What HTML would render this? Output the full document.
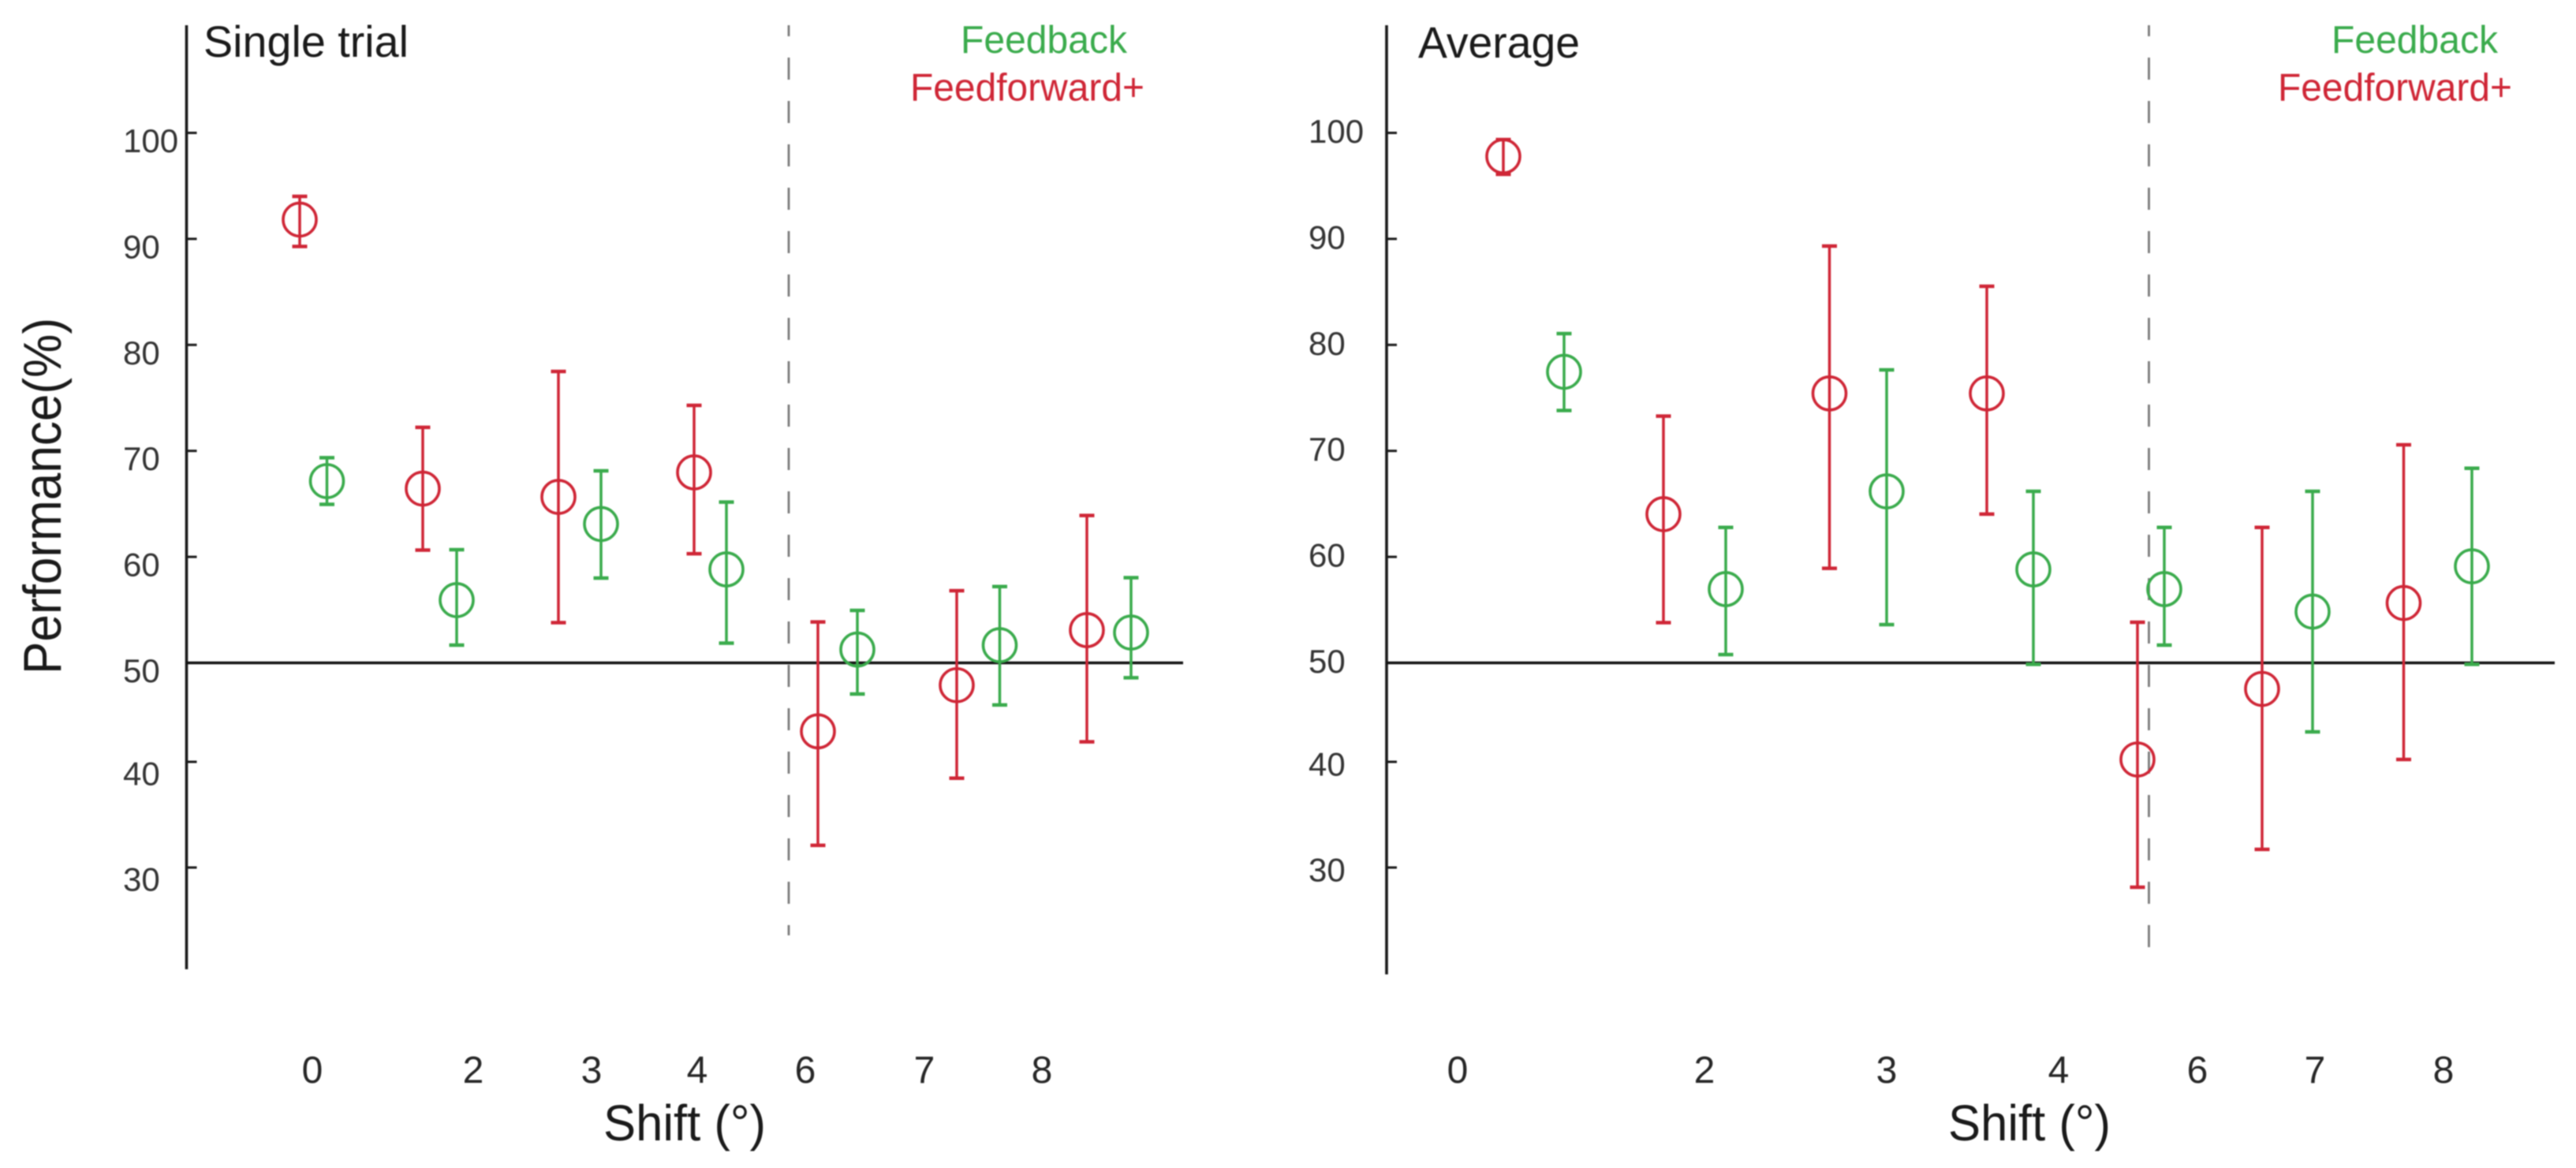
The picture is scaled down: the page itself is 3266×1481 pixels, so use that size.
<!DOCTYPE html>
<html lang="en">
<head>
<meta charset="utf-8">
<title>Performance vs Shift</title>
<style>
  html, body { margin: 0; padding: 0; background: #fff; }
  svg { display: block; font-family: "Liberation Sans", Arial, sans-serif; filter: blur(0.7px); }
</style>
</head>
<body>
<svg id="chart" xmlns="http://www.w3.org/2000/svg" width="3266" height="1481" viewBox="0 0 3266 1481">
  <rect x="0" y="0" width="3266" height="1481" fill="#ffffff"/>
  <text transform="translate(77,629) rotate(-90)" text-anchor="middle" font-size="68" textLength="452" lengthAdjust="spacingAndGlyphs" fill="#1a1a1a">Performance(%)</text>
</svg>
<script>
const yTicks = [100, 90, 80, 70, 60, 50, 40, 30];
const xTickLabels = ['0', '2', '3', '4', '6', '7', '8'];

const leftTickPos = [0, 2.04, 3.54, 4.88, 6.25, 7.76, 9.25];
const leftRedPos = [-0.16, 1.40, 3.12, 4.84, 6.41, 8.17, 9.82];
const leftRedMean = [91.82, 66.44, 65.66, 67.97, 43.08, 47.75, 53.09];
const leftRedHigh = [94.01, 72.22, 77.49, 74.29, 53.86, 56.81, 63.9];
const leftRedLow = [89.29, 60.64, 53.79, 60.3, 32.1, 38.45, 42.02];
const leftGreenPos = [0.185, 1.83, 3.66, 5.25, 6.91, 8.715, 10.38];
const leftGreenMean = [67.15, 55.92, 63.1, 58.82, 51.26, 51.67, 52.86];
const leftGreenHigh = [69.35, 60.68, 68.12, 65.17, 54.95, 57.2, 58.04];
const leftGreenLow = [64.96, 51.67, 58.0, 51.86, 46.85, 45.75, 48.5];

const rightTickPos = [0, 3.13, 5.44, 7.62, 9.38, 10.87, 12.5];
const rightRedPos = [0.58, 2.61, 4.715, 6.71, 8.62, 10.2, 11.995];
const rightRedMean = [97.79, 64.03, 75.42, 75.42, 40.24, 47.37, 55.65];
const rightRedHigh = [99.37, 73.28, 89.32, 85.53, 53.83, 62.78, 70.57];
const rightRedLow = [96.09, 53.79, 58.92, 64.03, 28.13, 31.72, 40.24];
const rightGreenPos = [1.35, 3.4, 5.44, 7.3, 8.96, 10.84, 12.86];
const rightGreenMean = [77.46, 56.96, 66.18, 58.82, 56.96, 54.84, 59.11];
const rightGreenHigh = [81.06, 62.78, 77.64, 66.18, 62.78, 66.18, 68.36];
const rightGreenLow = [73.81, 50.78, 53.61, 49.85, 51.67, 43.03, 49.85];

const RED = '#cf2636';
const GREEN = '#3aab4c';
const svgNS = 'http://www.w3.org/2000/svg';
const root = document.getElementById('chart');

function yScale(v) {
  if (v >= 50) return 840.5 - (v - 50) * 13.44;
  if (v >= 40) return 840.5 + (50 - v) * 12.55;
  return 966 + (40 - v) * 13.4;
}

function mk(tag, attrs, parent) {
  const el = document.createElementNS(svgNS, tag);
  for (const k in attrs) el.setAttribute(k, attrs[k]);
  parent.appendChild(el);
  return el;
}

function drawSeries(g, xScale, pos, mean, high, low, color, label) {
  pos.forEach(function (p, i) {
    const x = xScale(p);
    const group = mk('g', { stroke: color, fill: 'none' }, g);
    
    

    const bar = mk('line', { x1: x, x2: x, y1: yScale(high[i]), y2: yScale(low[i]), 'stroke-width': 3.5 }, group);
    
    

    const capTop = mk('line', { x1: x - 9.5, x2: x + 9.5, y1: yScale(high[i]), y2: yScale(high[i]), 'stroke-width': 4.5 }, group);
    
    

    const capBottom = mk('line', { x1: x - 9.5, x2: x + 9.5, y1: yScale(low[i]), y2: yScale(low[i]), 'stroke-width': 4.5 }, group);
    
    

    const dot = mk('circle', { cx: x, cy: yScale(mean[i]), r: 21, 'stroke-width': 3.6 }, group);
    
    
  });
}

function drawPanel(o) {
  const g = mk('g', {}, root);
  
  

  const xScale = function (u) { return o.originX + u * 100; };

  const dash = mk('line', { x1: o.dashX, x2: o.dashX, y1: 32, y2: o.dashEnd, stroke: '#7a7a7a', 'stroke-width': 2.8, 'stroke-dasharray': '28 27', 'stroke-dashoffset': 14 }, g);
  
  

  const yAxis = mk('line', { x1: o.axisX, x2: o.axisX, y1: 32, y2: o.axisEnd, stroke: '#1a1a1a', 'stroke-width': 3.6 }, g);
  
  

  yTicks.forEach(function (t) {
    const y = yScale(t);
    if (t !== 50) {
      const tick = mk('line', { x1: o.axisX, x2: o.axisX + 13, y1: y, y2: y, stroke: '#1a1a1a', 'stroke-width': 3 }, g);
      
      
    }
    const lab = mk('text', { x: o.labelX, y: y + o.labelDy + (t < 50 ? 5 : 0), 'font-size': 42, fill: '#333333' }, g);
    lab.textContent = String(t);
    
    
  });

  xTickLabels.forEach(function (t, i) {
    const lab = mk('text', { x: xScale(o.tickPos[i]), y: 1373, 'font-size': 48, 'text-anchor': 'middle', fill: '#262626' }, g);
    lab.textContent = t;
    
    
  });

  const base = mk('line', { x1: o.axisX, x2: o.baseEnd, y1: yScale(50), y2: yScale(50), stroke: '#111111', 'stroke-width': 3.6 }, g);
  
  

  drawSeries(g, xScale, o.redPos, o.redMean, o.redHigh, o.redLow, RED, o.name + '-feedforward');
  drawSeries(g, xScale, o.greenPos, o.greenMean, o.greenHigh, o.greenLow, GREEN, o.name + '-feedback');

  const title = mk('text', { x: o.titleX, y: o.titleY, 'font-size': 56, textLength: o.titleLen, lengthAdjust: 'spacingAndGlyphs', fill: '#1a1a1a' }, g);
  title.textContent = o.title;
  
  

  const fb = mk('text', { x: o.fbX, y: 67, 'font-size': 49, textLength: 211, lengthAdjust: 'spacingAndGlyphs', fill: GREEN }, g);
  fb.textContent = 'Feedback';
  
  

  const ff = mk('text', { x: o.ffX, y: 127.5, 'font-size': 49, textLength: 297, lengthAdjust: 'spacingAndGlyphs', fill: RED }, g);
  ff.textContent = 'Feedforward+';
  
  

  const xt = mk('text', { x: o.xTitleX, y: 1446, 'font-size': 64, textLength: 206, lengthAdjust: 'spacingAndGlyphs', fill: '#1a1a1a' }, g);
  xt.textContent = 'Shift (°)';
  
  
}

drawPanel({
  name: 'single-trial', title: 'Single trial', originX: 396, axisX: 236.5, axisEnd: 1229, baseEnd: 1500,
  dashX: 1000, dashEnd: 1186, labelX: 156, labelDy: 24.5, titleX: 258, titleY: 72, titleLen: 260,
  fbX: 1218, ffX: 1154, xTitleX: 765, tickPos: leftTickPos,
  redPos: leftRedPos, redMean: leftRedMean, redHigh: leftRedHigh, redLow: leftRedLow,
  greenPos: leftGreenPos, greenMean: leftGreenMean, greenHigh: leftGreenHigh, greenLow: leftGreenLow
});

drawPanel({
  name: 'average', title: 'Average', originX: 1848, axisX: 1758, axisEnd: 1235.5, baseEnd: 3239,
  dashX: 2724.5, dashEnd: 1228, labelX: 1659, labelDy: 12.5, titleX: 1798, titleY: 73, titleLen: 205,
  fbX: 2956, ffX: 2888, xTitleX: 2470, tickPos: rightTickPos,
  redPos: rightRedPos, redMean: rightRedMean, redHigh: rightRedHigh, redLow: rightRedLow,
  greenPos: rightGreenPos, greenMean: rightGreenMean, greenHigh: rightGreenHigh, greenLow: rightGreenLow
});
</script>
</body>
</html>
